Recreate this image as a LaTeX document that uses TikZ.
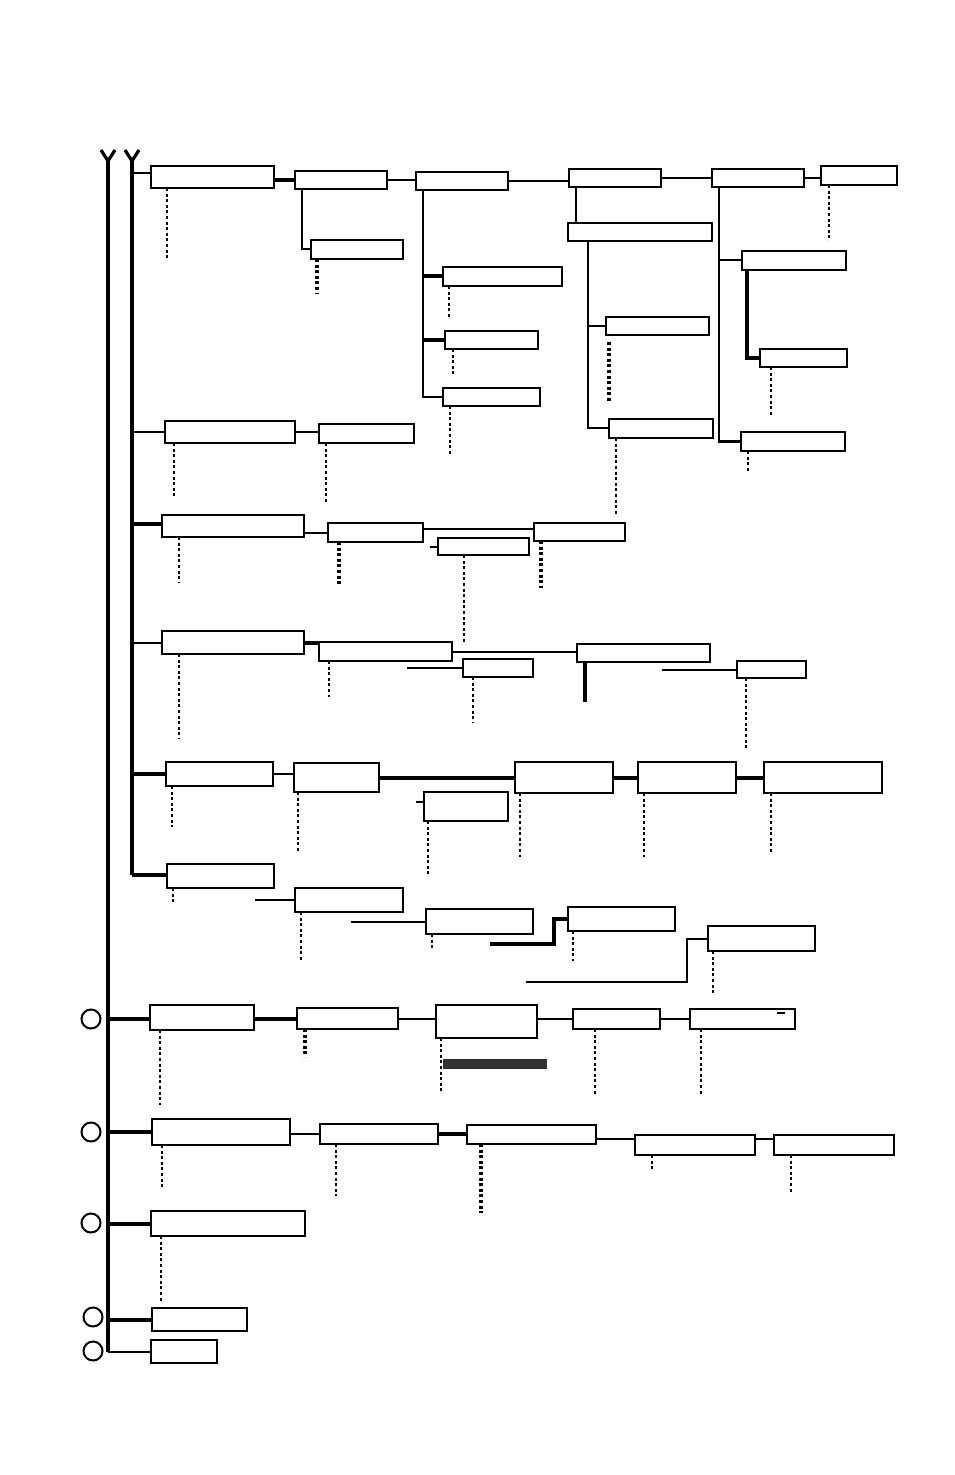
\documentclass[tikz,border=0pt]{standalone}
\usepackage{tikz}
\usetikzlibrary{calc, positioning, shapes}
\tikzset{
    box_node/.style={rectangle, draw=black, line width=1.4pt, fill=white, inner sep=0pt, outer sep=0pt, anchor=north west},
    box_size/.style 2 args={minimum width=#1*0.5pt, minimum height=#2*0.5pt},
    bar_node/.style={rectangle, fill=black!80, inner sep=0pt, outer sep=0pt, anchor=north west},
    end_circ/.style={circle, draw=black, line width=1pt, minimum size=9.5pt, inner sep=0pt},
    trunk_line/.style={line width=1.6pt},
    thin_line/.style={line width=1pt},
    mid_line/.style={line width=1.4pt},
    thick_line/.style={line width=2pt},
    dot_line/.style={line width=1.2pt, dash pattern=on 1.5pt off 1.3pt},
    heavy_dot_line/.style={line width=1.6pt, dash pattern=on 1.5pt off 1.3pt},
}
\begin{document}
\begin{tikzpicture}[x=0.5pt, y=-0.5pt]
      \useasboundingbox (0,0) rectangle (954,1475);

      %%%%%%%%%%
      % TRUNKS %
      %%%%%%%%%%
      \coordinate (trunk_1_top) at (108,161);
      \coordinate (trunk_1_end) at (108,1352);
      \coordinate (trunk_2_top) at (132,161);
      \coordinate (trunk_2_end) at (132,875);
      \draw [trunk_line] (trunk_1_top) -- (trunk_1_end);
      \draw [trunk_line] (trunk_2_top) -- (trunk_2_end);
      \draw [trunk_line] ($(trunk_1_top)+(-7,-11)$) -- (trunk_1_top) -- ($(trunk_1_top)+(7,-11)$);
      \draw [trunk_line] ($(trunk_2_top)+(-7,-11)$) -- (trunk_2_top) -- ($(trunk_2_top)+(7,-11)$);

      %%%%%%%%%%%%%%%%
      % BRANCH A TOP %
      %%%%%%%%%%%%%%%%
      \node (A1) [box_node, box_size={123}{22}] at (151,166) {};
      \node (A2) [box_node, box_size={92}{18}] at (295,171) {};
      \node (A2b) [box_node, box_size={92}{19}] at (311,240) {};
      \node (A3) [box_node, box_size={92}{18}] at (416,172) {};
      \node (A3a) [box_node, box_size={119}{19}] at (443,267) {};
      \node (A3b) [box_node, box_size={93}{18}] at (445,331) {};
      \node (A3c) [box_node, box_size={97}{18}] at (443,388) {};
      \node (A4) [box_node, box_size={92}{18}] at (569,169) {};
      \node (A4a) [box_node, box_size={144}{18}] at (568,223) {};
      \node (A4b) [box_node, box_size={103}{18}] at (606,317) {};
      \node (A4c) [box_node, box_size={104}{19}] at (609,419) {};
      \node (A5) [box_node, box_size={92}{18}] at (712,169) {};
      \node (A5a) [box_node, box_size={104}{19}] at (742,251) {};
      \node (A5b) [box_node, box_size={87}{18}] at (760,349) {};
      \node (A5c) [box_node, box_size={104}{19}] at (741,432) {};
      \node (A6) [box_node, box_size={76}{19}] at (821,166) {};

      \coordinate (A1_in) at ($(A1.north west)+(0,7)$);
      \draw [thin_line] (A1_in) -- (A1_in -| trunk_2_top);
      \draw [thick_line] (A1.east |- A2.west) -- (A2.west);
      \coordinate (A2_fork) at ($(A2.south west)+(7,0)$);
      \draw [thin_line] (A2_fork) |- (A2b.west);
      \draw [thin_line] (A2.east) -- (A2.east -| A3.west);
      \coordinate (A3_fork) at ($(A3.south west)+(7,0)$);
      \draw [mid_line] (A3_fork) |- (A3c.west);
      \draw [thick_line] (A3a.west) -- (A3a.west -| A3_fork);
      \draw [thick_line] (A3b.west) -- (A3b.west -| A3_fork);
      \draw [thin_line] (A3.east) -- (A3.east -| A4.west);
      \coordinate (A4_fork) at ($(A4.south west)+(7,0)$);
      \draw [thin_line] (A4_fork) -- (A4_fork |- A4a.north);
      \coordinate (A4a_fork) at ($(A4a.south west)+(20,0)$);
      \draw [thin_line] (A4a_fork) |- (A4c.west);
      \draw [thin_line] (A4b.west) -- (A4b.west -| A4a_fork);
      \draw [thin_line] (A4.east) -- (A4.east -| A5.west);
      \coordinate (A5_fork) at ($(A5.south west)+(7,0)$);
      \draw [mid_line] (A5_fork) |- (A5c.west);
      \draw [thin_line] (A5a.west) -- (A5a.west -| A5_fork);
      \coordinate (A5a_fork) at ($(A5a.south west)+(5,0)$);
      \draw [thick_line] (A5a_fork) |- (A5b.west);
      \draw [thin_line] (A5.east) -- (A5.east -| A6.west);

      \draw [dot_line] ($(A1.south west)+(16,0)$) -- ++(0,72);
      \draw [heavy_dot_line] ($(A2b.south west)+(6,0)$) -- ++(0,35);
      \draw [dot_line] ($(A3a.south west)+(6,0)$) -- ++(0,31);
      \draw [dot_line] ($(A3b.south west)+(8,0)$) -- ++(0,26);
      \draw [dot_line] ($(A3c.south west)+(7,0)$) -- ++(0,48);
      \draw [heavy_dot_line] ($(A4b.south west)+(3,7)$) -- ++(0,61);
      \draw [dot_line] ($(A4c.south west)+(7,0)$) -- ++(0,77);
      \draw [dot_line] ($(A5b.south west)+(11,0)$) -- ++(0,48);
      \draw [dot_line] ($(A5c.south west)+(7,0)$) -- ++(0,21);
      \draw [dot_line] ($(A6.south west)+(8,0)$) -- ++(0,56);

      %%%%%%%%%%%%%%%%%%
      % BRANCHES B - D %
      %%%%%%%%%%%%%%%%%%
      \node (B1) [box_node, box_size={130}{22}] at (165,421) {};
      \node (B2) [box_node, box_size={95}{19}] at (319,424) {};
      \draw [thin_line] (B1.west) -- (B1.west -| trunk_2_top);
      \draw [thin_line] (B1.east) -- (B1.east -| B2.west);
      \draw [dot_line] ($(B1.south west)+(9,0)$) -- ++(0,55);
      \draw [dot_line] ($(B2.south west)+(7,0)$) -- ++(0,61);

      \node (C1) [box_node, box_size={142}{22}] at (162,515) {};
      \node (C2) [box_node, box_size={95}{19}] at (328,523) {};
      \node (C3) [box_node, box_size={91}{17}] at (438,538) {};
      \node (C4) [box_node, box_size={91}{18}] at (534,523) {};
      \coordinate (C1_in) at ($(C1.north west)+(0,9)$);
      \coordinate (C2_out) at ($(C2.north east)+(0,6)$);
      \draw [thick_line] (C1_in) -- (C1_in -| trunk_2_top);
      \draw [thin_line] (C2.west) -- (C2.west -| C1.east);
      \draw [thin_line] (C2_out) -- (C2_out -| C4.west);
      \draw [thin_line] (C3.west) -- ++(-8,0);
      \draw [dot_line] ($(C1.south west)+(17,0)$) -- ++(0,46);
      \draw [heavy_dot_line] ($(C2.south west)+(11,0)$) -- ++(0,42);
      \draw [dot_line] ($(C3.south west)+(26,0)$) -- ++(0,88);
      \draw [heavy_dot_line] ($(C4.south west)+(7,0)$) -- ++(0,47);

      \node (D1) [box_node, box_size={142}{23}] at (162,631) {};
      \node (D2) [box_node, box_size={133}{19}] at (319,642) {};
      \node (D3) [box_node, box_size={70}{18}] at (463,659) {};
      \node (D4) [box_node, box_size={133}{18}] at (577,644) {};
      \node (D5) [box_node, box_size={69}{17}] at (737,661) {};
      \draw [thin_line] (D1.west) -- (D1.west -| trunk_2_top);
      \draw [thick_line] (D1.east) -- (D1.east -| D2.west);
      \draw [thin_line] (D2.east) -- (D2.east -| D4.west);
      \draw [thin_line] (D3.west) -- ++(-56,0);
      \draw [thick_line] ($(D4.south west)+(8,0)$) -- ++(0,40);
      \draw [thin_line] (D5.west) -- ++(-75,0);
      \draw [dot_line] ($(D1.south west)+(17,0)$) -- ++(0,85);
      \draw [dot_line] ($(D2.south west)+(10,0)$) -- ++(0,36);
      \draw [dot_line] ($(D3.south west)+(10,0)$) -- ++(0,46);
      \draw [dot_line] ($(D5.south west)+(9,0)$) -- ++(0,70);

      %%%%%%%%%%%%%%%%%%%%
      % BRANCHES E AND G %
      %%%%%%%%%%%%%%%%%%%%
      \node (E1) [box_node, box_size={107}{24}] at (166,762) {};
      \node (E2) [box_node, box_size={85}{29}] at (294,763) {};
      \node (E3) [box_node, box_size={98}{31}] at (515,762) {};
      \node (E3b) [box_node, box_size={84}{29}] at (424,792) {};
      \node (E4) [box_node, box_size={98}{31}] at (638,762) {};
      \node (E5) [box_node, box_size={118}{31}] at (764,762) {};
      \draw [thick_line] (E1.west) -- (E1.west -| trunk_2_top);
      \draw [thin_line] (E1.east) -- (E1.east -| E2.west);
      \draw [thick_line] (E2.east) -- (E2.east -| E3.west);
      \draw [thick_line] (E3.east) -- (E4.west);
      \draw [thick_line] (E4.east) -- (E5.west);
      \draw [thin_line] ($(E3b.north west)+(0,10)$) -- ++(-8,0);
      \draw [dot_line] ($(E1.south west)+(6,0)$) -- ++(0,41);
      \draw [dot_line] ($(E2.south west)+(4,0)$) -- ++(0,59);
      \draw [dot_line] ($(E3.south west)+(5,0)$) -- ++(0,64);
      \draw [dot_line] ($(E3b.south west)+(4,0)$) -- ++(0,55);
      \draw [dot_line] ($(E4.south west)+(6,0)$) -- ++(0,64);
      \draw [dot_line] ($(E5.south west)+(7,0)$) -- ++(0,60);

      \node (G1) [box_node, box_size={107}{24}] at (167,864) {};
      \node (G2) [box_node, box_size={108}{24}] at (295,888) {};
      \node (G3) [box_node, box_size={107}{25}] at (426,909) {};
      \node (G4) [box_node, box_size={107}{24}] at (568,907) {};
      \node (G5) [box_node, box_size={107}{25}] at (708,926) {};
      \coordinate (G4_tail) at (490,944);
      \coordinate (G5_tail) at (526,982);
      \draw [thick_line] (trunk_2_end) -- (trunk_2_end -| G1.west);
      \draw [thin_line] (G2.west) -- ++(-40,0);
      \draw [thin_line] (G3.west) -- ++(-75,0);
      \draw [thick_line] (G4_tail) -- ++(64,0) |- (G4.west);
      \draw [thin_line] (G5_tail) -- ++(161,0) |- (G5.west);
      \draw [dot_line] ($(G1.south west)+(6,0)$) -- ++(0,15);
      \draw [dot_line] ($(G2.south west)+(6,0)$) -- ++(0,49);
      \draw [dot_line] ($(G3.south west)+(6,0)$) -- ++(0,14);
      \draw [dot_line] ($(G4.south west)+(5,0)$) -- ++(0,30);
      \draw [dot_line] ($(G5.south west)+(5,0)$) -- ++(0,42);

      %%%%%%%%%%%%%%%%%%
      % BRANCHES F - K %
      %%%%%%%%%%%%%%%%%%
      \node (F0) [end_circ] at (91,1019) {};
      \node (F1) [box_node, box_size={104}{25}] at (150,1005) {};
      \node (F2) [box_node, box_size={101}{21}] at (297,1008) {};
      \node (F3) [box_node, box_size={101}{33}] at (436,1005) {};
      \node (F4) [box_node, box_size={87}{20}] at (573,1009) {};
      \node (F5) [box_node, box_size={105}{20}] at (690,1009) {};
      \node (F3_bar) [bar_node, box_size={104}{10}] at (443,1059) {};
      \coordinate (F5_mark) at ($(F5.north east)+(-18,4)$);
      \draw [thick_line] (F2.west -| trunk_1_top) -- (F2.west -| F1.west);
      \draw [thick_line] (F1.east |- F2.west) -- (F2.west);
      \draw [thin_line] (F2.east) -- (F2.east -| F3.west);
      \draw [thin_line] (F3.east |- F4.west) -- (F4.west);
      \draw [thin_line] (F4.east) -- (F5.west);
      \draw [thin_line] (F5_mark) -- ++(8,0);
      \draw [dot_line] ($(F1.south west)+(10,0)$) -- ++(0,75);
      \draw [heavy_dot_line] ($(F2.south west)+(8,0)$) -- ++(0,28);
      \draw [dot_line] ($(F3.south west)+(5,0)$) -- ++(0,55);
      \draw [dot_line] ($(F4.south west)+(22,0)$) -- ++(0,67);
      \draw [dot_line] ($(F5.south west)+(11,0)$) -- ++(0,67);

      \node (H0) [end_circ] at (91,1132) {};
      \node (H1) [box_node, box_size={138}{26}] at (152,1119) {};
      \node (H2) [box_node, box_size={118}{20}] at (320,1124) {};
      \node (H3) [box_node, box_size={129}{19}] at (467,1125) {};
      \node (H4) [box_node, box_size={120}{20}] at (635,1135) {};
      \node (H5) [box_node, box_size={120}{20}] at (774,1135) {};
      \coordinate (H4_in) at ($(H4.north west)+(0,4)$);
      \coordinate (H4_out) at ($(H4.north east)+(0,4)$);
      \draw [thick_line] (H1.west) -- (H1.west -| trunk_1_top);
      \draw [thin_line] (H1.east |- H2.west) -- (H2.west);
      \draw [thick_line] (H2.east) -- (H2.east -| H3.west);
      \draw [thin_line] (H4_in) -- (H4_in -| H3.east);
      \draw [thin_line] (H4_out) -- (H4_out -| H5.west);
      \draw [dot_line] ($(H1.south west)+(10,0)$) -- ++(0,42);
      \draw [dot_line] ($(H2.south west)+(16,0)$) -- ++(0,52);
      \draw [heavy_dot_line] ($(H3.south west)+(14,0)$) -- ++(0,69);
      \draw [dot_line] ($(H4.south west)+(17,0)$) -- ++(0,15);
      \draw [dot_line] ($(H5.south west)+(17,0)$) -- ++(0,39);

      \node (I0) [end_circ] at (91,1223) {};
      \node (I1) [box_node, box_size={154}{25}] at (151,1211) {};
      \draw [thick_line] (I1.west) -- (I1.west -| trunk_1_top);
      \draw [dot_line] ($(I1.south west)+(10,0)$) -- ++(0,66);

      \node (J0) [end_circ] at (93,1317) {};
      \node (J1) [box_node, box_size={95}{23}] at (152,1308) {};
      \draw [thick_line] (J1.west) -- (J1.west -| trunk_1_top);

      \node (K0) [end_circ] at (93,1351) {};
      \node (K1) [box_node, box_size={66}{23}] at (151,1340) {};
      \draw [thin_line] (trunk_1_end) -- (trunk_1_end -| K1.west);
\end{tikzpicture}
\end{document}
